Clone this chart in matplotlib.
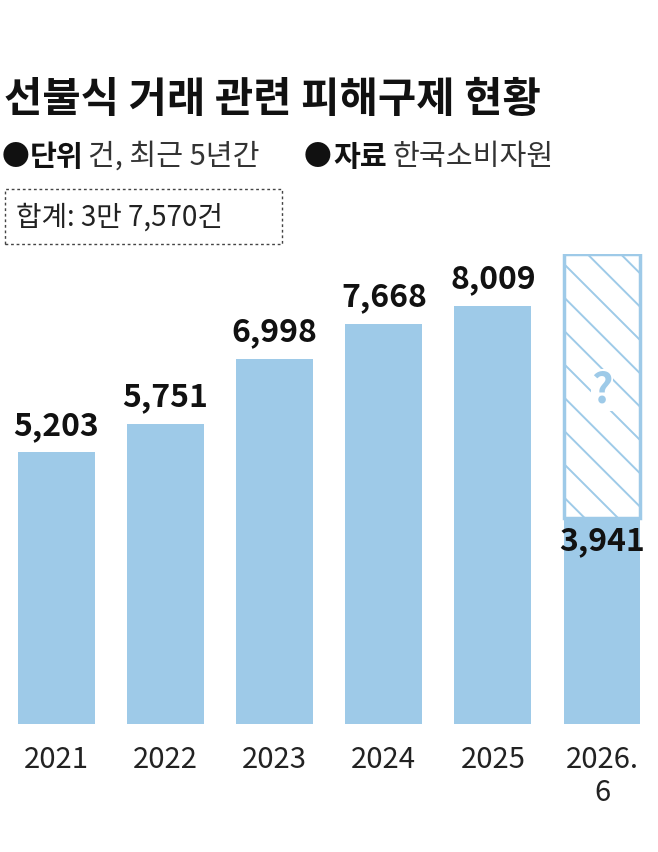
import matplotlib
matplotlib.use("Agg")
import matplotlib.pyplot as plt
from matplotlib.patches import Rectangle

plt.rcParams['font.family'] = ['Noto Sans CJK KR', 'DejaVu Sans']
plt.rcParams['hatch.linewidth'] = 1.4

years = ["2021", "2022", "2023", "2024", "2025", "2026.\n6"]
values = [5203, 5751, 6998, 7668, 8009, 3941]
labels = ["5,203", "5,751", "6,998", "7,668", "8,009", "3,941"]
unknown_cap = 9000

blue = "#9ecae8"
W, H = 658, 853
fig = plt.figure(figsize=(W/100, H/100), dpi=100)
ax = fig.add_axes([0, (H-725)/H, 1, 470/H])
ax.set_xlim(-0.518, 5.513)
ax.set_ylim(0, 9000)
ax.axis('off')
x = list(range(len(values)))
bw = 0.705
ax.bar(5, unknown_cap - values[5], bw, bottom=values[5], facecolor="white",
       edgecolor=blue, hatch="\\", linewidth=2.5)
ax.bar(x, values, bw, color=blue)
for i, (v, l) in enumerate(zip(values, labels)):
    if i < 5:
        ax.text(i, v + 220, l, ha='center', va='bottom', fontsize=23, fontweight='bold', color='#111')
    else:
        ax.text(i, v - 120, l, ha='center', va='top', fontsize=23, fontweight='bold', color='#111')
ax.text(5, 6400, "?", ha='center', va='center', fontsize=30, fontweight='bold', color=blue,
        bbox=dict(facecolor='white', edgecolor='none', pad=0))
for i, y in enumerate(years):
    fig.text((56.5 + 109.1*i)/W, 1 - 745/H, y, ha='center', va='top', fontsize=21,
             color='#222', linespacing=1.15)

fig.text(4/W, 1 - 100/H, "선불식 거래 관련 피해구제 현황", fontsize=30, fontweight='heavy',
         va='center', ha='left', color='#111')
fig.text(2/W, 1 - 157/H, "●", fontsize=20, va='center', color='#111')
fig.text(30/W, 1 - 157/H, "단위", fontsize=21, fontweight='bold', va='center', color='#111')
fig.text(88/W, 1 - 157/H, "건, 최근 5년간", fontsize=21, va='center', color='#333')
fig.text(304/W, 1 - 157/H, "●", fontsize=20, va='center', color='#111')
fig.text(333/W, 1 - 157/H, "자료", fontsize=21, fontweight='bold', va='center', color='#111')
fig.text(393/W, 1 - 157/H, "한국소비자원", fontsize=21, va='center', color='#333')

fig.patches.append(Rectangle((5/W, 1 - 245/H), 277/W, 55/H, transform=fig.transFigure,
                             fill=False, edgecolor='#444', linestyle=(0, (2, 2)), linewidth=1))
fig.text(16/W, 1 - 218/H, "합계: 3만 7,570건", fontsize=20, va='center', color='#222')

fig.savefig("out.png", dpi=100, facecolor='white')
